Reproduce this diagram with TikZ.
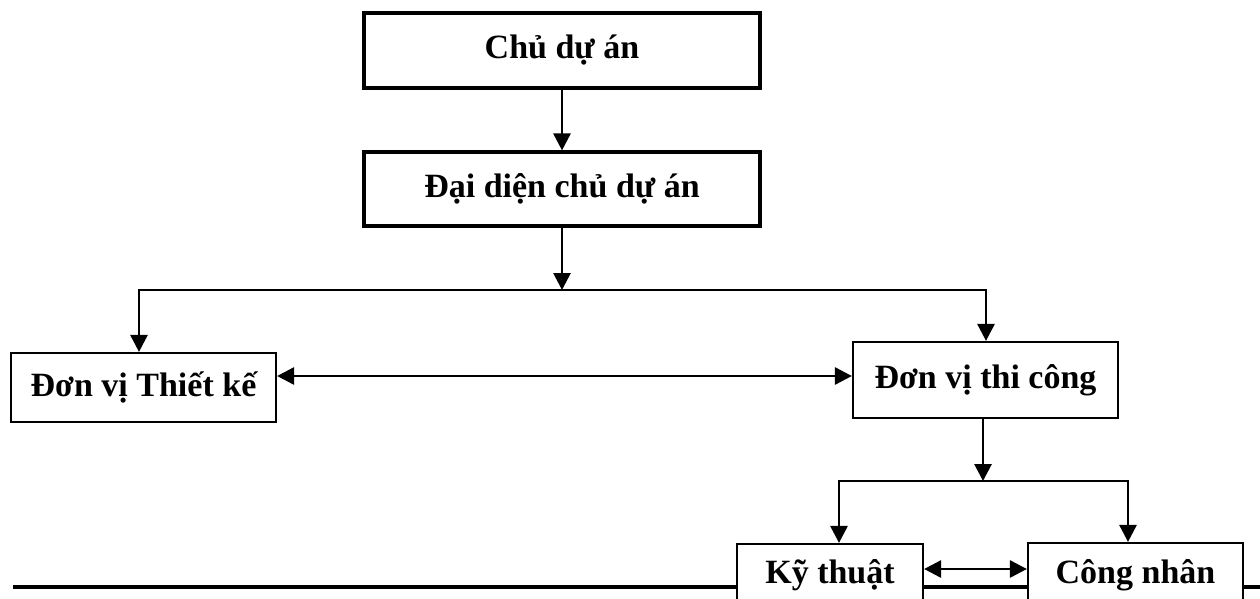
\documentclass[tikz,border=0pt]{standalone}
\usepackage{fontspec}
\setmainfont{Liberation Serif}
\usetikzlibrary{arrows.meta}
\begin{document}
\begin{tikzpicture}[x=1pt,y=-1pt,
  box/.style={draw, line width=2.2pt, fill=white, inner sep=0pt,
    font=\fontsize{34}{40}\selectfont\bfseries},
  bigbox/.style={box, line width=3.2pt},
  conn/.style={line width=2.8pt},
  arr/.style={conn, -{Triangle[length=17pt,width=17pt]}},
  darr/.style={conn, {Triangle[length=17pt,width=17pt]}-{Triangle[length=17pt,width=17pt]}}]
\useasboundingbox (0,0) rectangle (1260,598);
\clip (0,0) rectangle (1260,598);
\fill[white] (0,0) rectangle (1260,598);
% thick rule
\draw[line width=4.5pt] (13,587) -- (1260,587);
% boxes
\node[bigbox, minimum width=396pt, minimum height=75pt] (chu) at (562,50.5) {Chủ dự án};
\node[bigbox, minimum width=396pt, minimum height=74pt] (daidien) at (562,189) {Đại diện chủ dự án};
\node[box, minimum width=265pt, minimum height=69pt] (thietke) at (143.5,387.5) {Đơn vị Thiết kế};
\node[box, minimum width=265pt, minimum height=76pt] (thicong) at (985.5,380) {Đơn vị thi công};
\node[box, minimum width=186pt, minimum height=62pt] (kythuat) at (830,575) {Kỹ thuật};
\node[box, minimum width=215pt, minimum height=64pt] (congnhan) at (1135.5,575) {Công nhân};
% junctions
\coordinate (j1) at (562,290);
\coordinate (j1l) at (139,290);
\coordinate (j1r) at (986,290);
\coordinate (j2) at (983,481);
\coordinate (j2l) at (839,481);
\coordinate (j2r) at (1128,481);
% connectors
\draw[arr] (chu.south) -- (daidien.north);
\draw[arr] (daidien.south) -- (j1);
\draw[arr] (j1) -- (j1l) -- (j1l |- thietke.north);
\draw[arr] (j1) -- (j1r) -- (j1r |- thicong.north);
\draw[darr] (thietke.east |- 0,376) -- (thicong.west |- 0,376);
\draw[arr] (j2 |- thicong.south) -- (j2);
\draw[arr] (j2) -- (j2l) -- (j2l |- kythuat.north);
\draw[arr] (j2) -- (j2r) -- (j2r |- congnhan.north);
\draw[darr] (kythuat.east |- 0,569) -- (congnhan.west |- 0,569);
\end{tikzpicture}
\end{document}
